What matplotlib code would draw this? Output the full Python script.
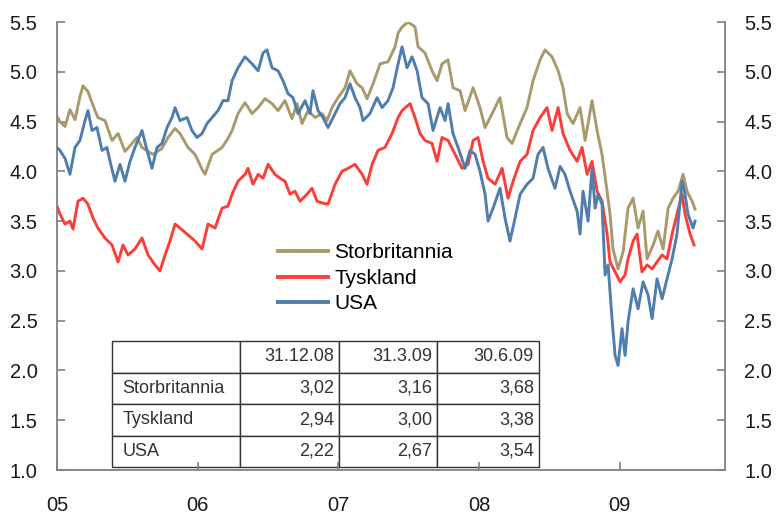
import matplotlib
matplotlib.use("Agg")
import matplotlib.pyplot as plt
from matplotlib.table import Table

# ── Data (10-year government bond yields) ──────────────────────────────────────
UK_T = [2005.000, 2005.021, 2005.057, 2005.092, 2005.128, 2005.163, 2005.185, 2005.220,
        2005.270, 2005.291, 2005.341, 2005.391, 2005.434, 2005.483, 2005.533, 2005.569,
        2005.604, 2005.647, 2005.682, 2005.746, 2005.789, 2005.839, 2005.874, 2005.931,
        2005.981, 2006.031, 2006.052, 2006.102, 2006.173, 2006.215, 2006.244, 2006.286,
        2006.336, 2006.386, 2006.429, 2006.478, 2006.528, 2006.571, 2006.620, 2006.670,
        2006.706, 2006.741, 2006.784, 2006.834, 2006.883, 2006.919, 2006.954, 2006.997,
        2007.047, 2007.082, 2007.132, 2007.168, 2007.203, 2007.246, 2007.296, 2007.352,
        2007.402, 2007.424, 2007.452, 2007.495, 2007.544, 2007.566, 2007.615, 2007.665,
        2007.701, 2007.736, 2007.779, 2007.814, 2007.864, 2007.900, 2007.957, 2008.006,
        2008.042, 2008.092, 2008.148, 2008.198, 2008.234, 2008.291, 2008.340, 2008.383,
        2008.433, 2008.468, 2008.518, 2008.561, 2008.596, 2008.625, 2008.667, 2008.717,
        2008.753, 2008.802, 2008.838, 2008.873, 2008.909, 2008.930, 2008.951, 2008.987,
        2009.023, 2009.058, 2009.094, 2009.129, 2009.165, 2009.193, 2009.236, 2009.271,
        2009.307, 2009.343, 2009.378, 2009.414, 2009.449, 2009.477, 2009.513, 2009.534]
UK = [4.55, 4.50, 4.45, 4.62, 4.52, 4.75, 4.86, 4.80,
      4.61, 4.54, 4.51, 4.31, 4.38, 4.20, 4.28, 4.34,
      4.24, 4.20, 4.17, 4.23, 4.34, 4.43, 4.38, 4.24,
      4.17, 4.02, 3.97, 4.17, 4.24, 4.33, 4.41, 4.58,
      4.69, 4.58, 4.64, 4.73, 4.68, 4.61, 4.71, 4.53,
      4.68, 4.48, 4.61, 4.54, 4.58, 4.51, 4.64, 4.74,
      4.84, 5.01, 4.88, 4.84, 4.73, 4.88, 5.08, 5.10,
      5.25, 5.39, 5.45, 5.50, 5.45, 5.25, 5.19, 5.01,
      4.91, 5.08, 5.12, 4.84, 4.81, 4.61, 4.84, 4.64,
      4.44, 4.58, 4.74, 4.34, 4.28, 4.48, 4.64, 4.91,
      5.12, 5.22, 5.15, 5.01, 4.84, 4.58, 4.48, 4.64,
      4.31, 4.71, 4.41, 4.17, 3.80, 3.57, 3.22, 3.02,
      3.19, 3.63, 3.73, 3.43, 3.60, 3.12, 3.26, 3.40,
      3.22, 3.63, 3.73, 3.80, 3.97, 3.80, 3.70, 3.62]

DE_T = [2005.000, 2005.021, 2005.057, 2005.092, 2005.114, 2005.149, 2005.185, 2005.220,
        2005.256, 2005.291, 2005.341, 2005.391, 2005.434, 2005.469, 2005.505, 2005.554,
        2005.604, 2005.647, 2005.696, 2005.732, 2005.768, 2005.803, 2005.839, 2005.874,
        2005.924, 2005.981, 2006.031, 2006.073, 2006.123, 2006.173, 2006.215, 2006.244,
        2006.286, 2006.336, 2006.357, 2006.393, 2006.429, 2006.464, 2006.500, 2006.549,
        2006.585, 2006.620, 2006.656, 2006.691, 2006.727, 2006.777, 2006.812, 2006.848,
        2006.890, 2006.926, 2006.976, 2007.025, 2007.068, 2007.118, 2007.168, 2007.203,
        2007.239, 2007.281, 2007.331, 2007.381, 2007.424, 2007.452, 2007.509, 2007.544,
        2007.580, 2007.615, 2007.665, 2007.701, 2007.736, 2007.779, 2007.829, 2007.878,
        2007.921, 2007.957, 2007.992, 2008.028, 2008.063, 2008.113, 2008.163, 2008.205,
        2008.241, 2008.291, 2008.340, 2008.383, 2008.433, 2008.482, 2008.518, 2008.561,
        2008.596, 2008.646, 2008.696, 2008.731, 2008.767, 2008.802, 2008.838, 2008.873,
        2008.909, 2008.930, 2008.966, 2009.001, 2009.037, 2009.058, 2009.094, 2009.122,
        2009.157, 2009.193, 2009.229, 2009.264, 2009.300, 2009.335, 2009.371, 2009.406,
        2009.442, 2009.463, 2009.499, 2009.527]
DE = [3.65, 3.57, 3.47, 3.50, 3.42, 3.70, 3.73, 3.67,
      3.53, 3.43, 3.33, 3.26, 3.09, 3.26, 3.16, 3.22,
      3.33, 3.16, 3.06, 3.00, 3.16, 3.30, 3.47, 3.43,
      3.37, 3.30, 3.22, 3.47, 3.43, 3.63, 3.65, 3.77,
      3.90, 3.97, 4.03, 3.87, 3.97, 3.93, 4.07, 3.97,
      3.93, 3.90, 3.77, 3.80, 3.70, 3.77, 3.83, 3.70,
      3.68, 3.67, 3.87, 4.00, 4.03, 4.07, 3.97, 3.87,
      4.07, 4.21, 4.24, 4.38, 4.54, 4.61, 4.68, 4.54,
      4.38, 4.31, 4.28, 4.10, 4.34, 4.31, 4.17, 4.03,
      4.07, 4.31, 4.34, 4.10, 3.93, 3.87, 4.03, 3.73,
      3.90, 4.10, 4.17, 4.41, 4.54, 4.64, 4.41, 4.64,
      4.38, 4.21, 4.10, 4.24, 3.97, 4.10, 3.80, 3.70,
      3.37, 3.09, 2.99, 2.89, 2.96, 3.12, 3.30, 3.37,
      2.99, 3.06, 3.02, 3.09, 3.16, 3.12, 3.37, 3.57,
      3.77, 3.57, 3.37, 3.26]

US_T = [2005.000, 2005.021, 2005.057, 2005.092, 2005.128, 2005.163, 2005.199, 2005.220,
        2005.249, 2005.284, 2005.320, 2005.355, 2005.377, 2005.412, 2005.448, 2005.483,
        2005.519, 2005.554, 2005.604, 2005.640, 2005.675, 2005.711, 2005.746, 2005.782,
        2005.817, 2005.839, 2005.874, 2005.924, 2005.959, 2005.995, 2006.031, 2006.066,
        2006.102, 2006.144, 2006.180, 2006.215, 2006.244, 2006.286, 2006.336, 2006.386,
        2006.429, 2006.464, 2006.492, 2006.528, 2006.571, 2006.606, 2006.642, 2006.677,
        2006.713, 2006.763, 2006.798, 2006.819, 2006.855, 2006.890, 2006.926, 2006.962,
        2007.011, 2007.047, 2007.082, 2007.118, 2007.153, 2007.175, 2007.224, 2007.274,
        2007.310, 2007.352, 2007.388, 2007.424, 2007.452, 2007.487, 2007.523, 2007.559,
        2007.594, 2007.637, 2007.672, 2007.722, 2007.758, 2007.779, 2007.814, 2007.850,
        2007.900, 2007.935, 2007.971, 2008.006, 2008.042, 2008.063, 2008.099, 2008.148,
        2008.184, 2008.219, 2008.255, 2008.291, 2008.340, 2008.383, 2008.418, 2008.454,
        2008.489, 2008.539, 2008.575, 2008.610, 2008.646, 2008.696, 2008.717, 2008.738,
        2008.774, 2008.802, 2008.824, 2008.845, 2008.873, 2008.895, 2008.916, 2008.944,
        2008.966, 2008.987, 2009.015, 2009.037, 2009.058, 2009.094, 2009.129, 2009.165,
        2009.200, 2009.229, 2009.264, 2009.300, 2009.335, 2009.371, 2009.406, 2009.442,
        2009.463, 2009.484, 2009.520, 2009.534]
US = [4.24, 4.21, 4.13, 3.97, 4.24, 4.31, 4.51, 4.61,
      4.41, 4.44, 4.21, 4.24, 4.10, 3.90, 4.07, 3.90,
      4.10, 4.24, 4.41, 4.21, 4.03, 4.24, 4.28, 4.44,
      4.54, 4.64, 4.51, 4.54, 4.41, 4.34, 4.38, 4.48,
      4.54, 4.61, 4.71, 4.71, 4.91, 5.04, 5.15, 5.08,
      5.01, 5.19, 5.22, 5.04, 5.01, 4.91, 4.78, 4.74,
      4.58, 4.71, 4.58, 4.81, 4.61, 4.54, 4.44, 4.54,
      4.68, 4.74, 4.88, 4.74, 4.64, 4.51, 4.58, 4.74,
      4.64, 4.71, 4.84, 5.08, 5.25, 5.04, 5.15, 5.01,
      4.74, 4.68, 4.41, 4.64, 4.51, 4.68, 4.38, 4.24,
      4.03, 4.21, 4.17, 4.00, 3.77, 3.50, 3.63, 3.83,
      3.53, 3.30, 3.53, 3.77, 3.87, 3.93, 4.17, 4.24,
      4.03, 3.83, 4.05, 3.97, 3.80, 3.60, 3.37, 3.80,
      3.50, 4.03, 3.63, 3.77, 3.67, 2.96, 3.06, 2.52,
      2.15, 2.05, 2.42, 2.15, 2.49, 2.82, 2.62, 2.89,
      2.76, 2.52, 2.92, 2.72, 2.92, 3.12, 3.37, 3.90,
      3.77, 3.57, 3.43, 3.50]

SERIES_NAMES = ["Storbritannia", "Tyskland", "USA"]
TABLE_DATES = ["31.12.08", "31.3.09", "30.6.09"]
TABLE_VALUES = [["3,02", "3,16", "3,68"],
                ["2,94", "3,00", "3,38"],
                ["2,22", "2,67", "3,54"]]

YEARS = [2005, 2006, 2007, 2008, 2009]
YEAR_LABELS = ["05", "06", "07", "08", "09"]
Y_TICKS = [1.0, 1.5, 2.0, 2.5, 3.0, 3.5, 4.0, 4.5, 5.0, 5.5]

# ── Style ──────────────────────────────────────────────────────────────────────
TAN = "#A99A6C"
RED = "#F93F38"
BLUE = "#4F7DAE"
AXIS_GREY = "#808080"
TEXT = "#1a1a1a"

plt.rcParams.update({
    "font.family": ["Liberation Sans", "DejaVu Sans"],
    "figure.facecolor": "white",
    "axes.facecolor": "white",
})

fig = plt.figure(figsize=(7.78, 5.19), dpi=100)
ax = fig.add_axes([57 / 778, 1 - 470 / 519, 668 / 778, 448 / 519])

for t, v, c, name in zip([UK_T, DE_T, US_T], [UK, DE, US], [TAN, RED, BLUE], SERIES_NAMES):
    ax.plot(t, v, color=c, lw=2.1, label=name, solid_joinstyle="round")

ax.set_xlim(2005.0, 2009.747)
ax.set_ylim(1.0, 5.5)
ax.set_xticks(YEARS)
ax.set_xticklabels(YEAR_LABELS)
ax.set_yticks(Y_TICKS)
ax.set_yticklabels([f"{y:.1f}" for y in Y_TICKS])

ax.spines["top"].set_visible(False)
for s in ["left", "right", "bottom"]:
    ax.spines[s].set_color(AXIS_GREY)
    ax.spines[s].set_linewidth(1.3)

ax.tick_params(axis="y", which="both", direction="in", length=6, width=1.2, color=AXIS_GREY,
               labelsize=14.5, labelcolor=TEXT, left=True, right=True,
               labelleft=True, labelright=True, pad=14)
ax.tick_params(axis="x", direction="in", length=6, width=1.2, color=AXIS_GREY,
               labelsize=14.5, labelcolor=TEXT, pad=19)

leg = ax.legend(loc="upper left", bbox_to_anchor=(0.318, 0.525), frameon=False,
                fontsize=15, handlelength=2.4, handletextpad=0.3, labelspacing=0.32,
                borderaxespad=0)
for line in leg.get_lines():
    line.set_linewidth(2.8)

# ── Table ──────────────────────────────────────────────────────────────────────
col_w = [128, 99, 98, 102]
tb = Table(ax, bbox=[(112 - 57) / 668, (470 - 467) / 448, 427 / 668, 126 / 448])
rows = [[""] + TABLE_DATES] + [[n] + vals for n, vals in zip(SERIES_NAMES, TABLE_VALUES)]
for r, row in enumerate(rows):
    for c, txt in enumerate(row):
        cell = tb.add_cell(r, c, width=col_w[c], height=1, text=txt,
                           loc="left" if c == 0 else "right", facecolor="white",
                           edgecolor="#333333")
        cell.PAD = 0.08 if c == 0 else 0.05
        cell.set_linewidth(1.0)
        cell.get_text().set_color("#333333")
tb.auto_set_font_size(False)
tb.set_fontsize(13)
ax.add_table(tb)

fig.savefig("out.png", dpi=100)
